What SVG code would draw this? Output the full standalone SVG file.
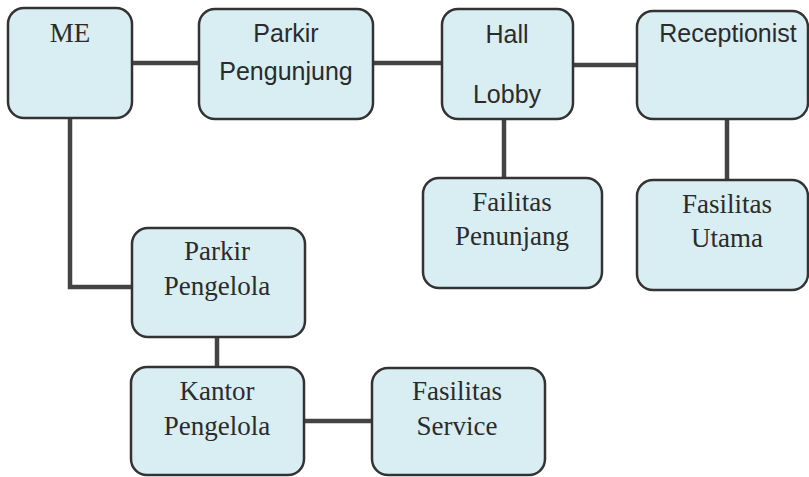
<svg xmlns="http://www.w3.org/2000/svg" width="809" height="477" viewBox="0 0 809 477">
<style>
.box{fill:#d9eef3;stroke:#333;stroke-width:2.5}
.serif{font-family:"Liberation Serif","Times New Roman",serif;font-size:27px;fill:#2b2b2b;text-anchor:middle}
.sans{font-family:"Liberation Sans",Arial,sans-serif;font-size:25px;fill:#2b2b2b;text-anchor:middle}
.conn{stroke:#444;stroke-width:4.5;fill:none}
</style>
<rect width="809" height="477" fill="#fff"/>
<g id="connectors">
<line class="conn" x1="132" y1="63" x2="199" y2="63"/>
<line class="conn" x1="373" y1="63" x2="442" y2="63"/>
<line class="conn" x1="573" y1="65" x2="637" y2="65"/>
<line class="conn" x1="504" y1="119" x2="504" y2="178"/>
<line class="conn" x1="727" y1="119" x2="727" y2="180"/>
<polyline class="conn" points="70,118 70,287 132,287"/>
<line class="conn" x1="217" y1="337" x2="217" y2="367"/>
<line class="conn" x1="304" y1="421" x2="372" y2="421"/>
</g>
<g id="me">
<rect class="box" x="8" y="8" width="124" height="110" rx="16"/>
<text class="serif" x="70" y="42">ME</text>
</g>
<g id="parkir-pengunjung">
<rect class="box" x="199" y="9" width="174" height="110" rx="16"/>
<text class="sans" x="286" y="42">Parkir</text>
<text class="sans" x="286" y="80">Pengunjung</text>
</g>
<g id="hall-lobby">
<rect class="box" x="442" y="9" width="131" height="110" rx="16"/>
<text class="sans" x="507" y="43">Hall</text>
<text class="sans" x="507" y="103">Lobby</text>
</g>
<g id="receptionist">
<rect class="box" x="637" y="11" width="171" height="108" rx="16"/>
<text class="sans" x="728" y="42">Receptionist</text>
</g>
<g id="failitas-penunjang">
<rect class="box" x="423" y="178" width="179" height="110" rx="16"/>
<text class="serif" x="512" y="211">Failitas</text>
<text class="serif" x="512" y="245">Penunjang</text>
</g>
<g id="fasilitas-utama">
<rect class="box" x="637" y="180" width="171" height="110" rx="16"/>
<text class="serif" x="727" y="213">Fasilitas</text>
<text class="serif" x="727" y="247">Utama</text>
</g>
<g id="parkir-pengelola">
<rect class="box" x="132" y="228" width="173" height="109" rx="16"/>
<text class="serif" x="217" y="260">Parkir</text>
<text class="serif" x="217" y="295">Pengelola</text>
</g>
<g id="kantor-pengelola">
<rect class="box" x="131" y="367" width="173" height="108" rx="16"/>
<text class="serif" x="217" y="400">Kantor</text>
<text class="serif" x="217" y="435">Pengelola</text>
</g>
<g id="fasilitas-service">
<rect class="box" x="372" y="368" width="173" height="107" rx="16"/>
<text class="serif" x="457" y="400">Fasilitas</text>
<text class="serif" x="457" y="435">Service</text>
</g>
</svg>
